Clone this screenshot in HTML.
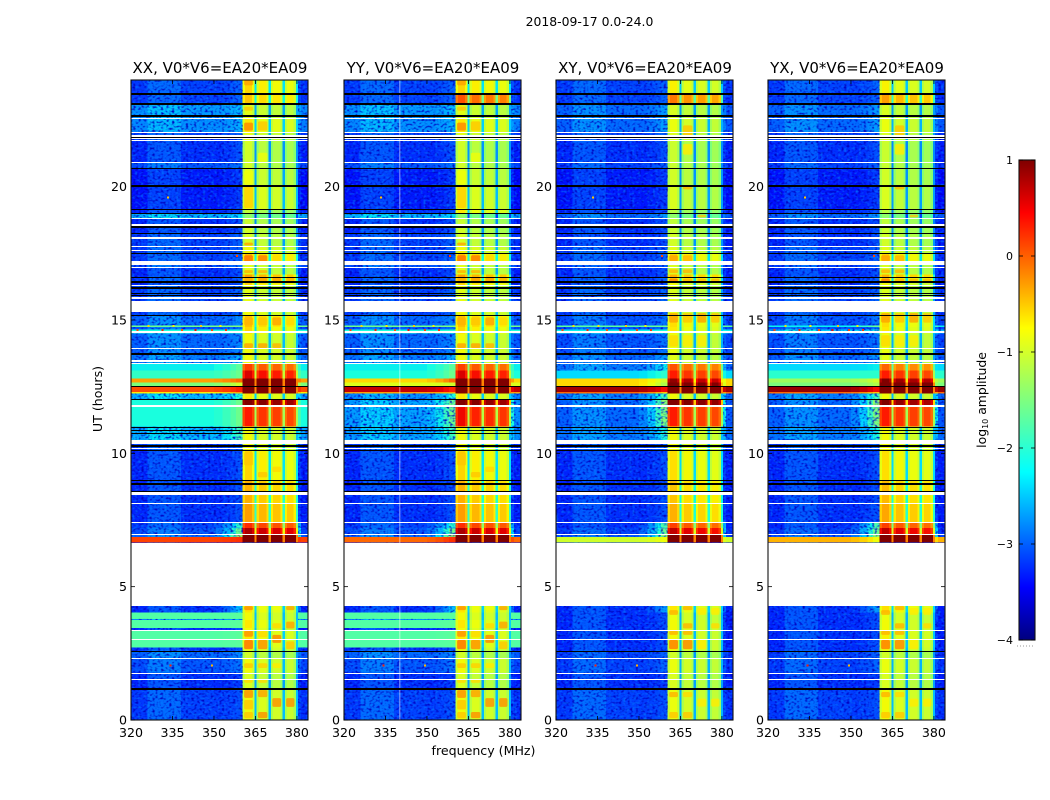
<!DOCTYPE html>
<html>
<head>
<meta charset="utf-8">
<style>
html,body{margin:0;padding:0;background:#fff;}
#fig{display:block;width:1050px;height:800px;}
text{font-family:"DejaVu Sans","Liberation Sans",sans-serif;fill:#000;}
</style>
</head>
<body>
<svg id="fig" xmlns="http://www.w3.org/2000/svg" width="1050" height="800" viewBox="0 0 1050 800">
<defs>
<filter id="speckle-dark" x="0" y="0" width="100%" height="100%" color-interpolation-filters="sRGB">
<feTurbulence type="fractalNoise" baseFrequency="0.36 0.46" numOctaves="1" seed="4"/>
<feColorMatrix values="0 0 0 0 0  0 0 0 0 0  0 0 0 0 0.75  3.4 0 0 0 -1.65"/>
<feComposite in2="SourceAlpha" operator="in"/>
</filter>
<filter id="speckle-light" x="0" y="0" width="100%" height="100%" color-interpolation-filters="sRGB">
<feTurbulence type="fractalNoise" baseFrequency="0.34 0.44" numOctaves="1" seed="11"/>
<feColorMatrix values="0 0 0 0 0  0 0 0 0 0.5  0 0 0 0 1  3 0 0 0 -1.5"/>
<feComposite in2="SourceAlpha" operator="in"/>
</filter>
<linearGradient id="jet-gradient" x1="0" y1="1" x2="0" y2="0">
<stop offset="0" stop-color="#00007f"/>
<stop offset="0.11" stop-color="#0000ff"/>
<stop offset="0.35" stop-color="#00ffff"/>
<stop offset="0.5" stop-color="#7fff7f"/>
<stop offset="0.65" stop-color="#ffff00"/>
<stop offset="0.89" stop-color="#ff0000"/>
<stop offset="1" stop-color="#7f0000"/>
</linearGradient>
</defs>
<text x="589.5" y="26" text-anchor="middle" font-size="12.4">2018-09-17 0.0-24.0</text>
<text transform="translate(102,399) rotate(-90)" text-anchor="middle" font-size="12.6">UT (hours)</text>
<text x="483.5" y="755" text-anchor="middle" font-size="12.6">frequency (MHz)</text>
<g id="panels"></g>
<g id="colorbar"></g>
</svg>
<script>
// Channel groups along the frequency axis (MHz) and what each group shows.
const freqEdges = [320,326,338,350,353,356,358,360.4,361.2,363.8,364.6,365.4,366.2,369,369.8,370.6,371.4,374,374.8,375.6,376.4,378.8,379.6,380.4,381.5,384];
const columnKinds = ['low','low','low','low','low','low','low','shoulder','band','shoulder','gap','shoulder','band','shoulder','gap','shoulder','band','shoulder','gap','shoulder','band','shoulder','gap','low','low'];
const columnBlocks = [-1,-1,-1,-1,-1,-1,-1,0,0,0,-1,1,1,1,-1,2,2,2,-1,3,3,3,-1,-1,-1];
const lowOffsets = [0,0.25,0.05,0,0,0,0,0,0,0,0,0,0,0,0,0,0,0,0,0,0,0,0,0,-0.05];
const edgeWeights = [0,0,0,0.15,0.4,0.7,1,0,0,0,0,0,0,0,0,0,0,0,0,0,0,0,0,0.5,0];
const blockOffsets = [0.22,0.08,0.02,-0.02];
const shoulderDrop = 0.22;
const gapDrop = 1.45;

// Upper end (UT hours) of each time segment.
const segmentEnds = [
1.2,1.78,2.3,2.6,2.72,3.35,3.45,3.75,3.79,4.03,
4.27,6.65,6.87,6.98,7.2,7.4,8.1,8.6,9.0,10.1,
10.5,11.0,11.75,12.0,12.25,12.3,12.52,12.65,12.8,13.1,
13.35,13.7,14.5,14.65,14.73,14.8,15.15,15.73,16.3,16.4,
16.6,16.7,16.95,17.2,17.47,17.75,18.25,18.5,18.8,18.98,
19.15,20.05,20.67,20.9,21.7,22.05,22.55,23.1,23.5,24
];

// log10 amplitude per segment: outside the observing band.
const xxLow = [
-3.1,-3.2,-3.0,-2.9,-3.2,-1.75,-3.2,-1.75,-2.7,-1.75,
-3.2,-3.2,0.2,-2.9,-3.0,-3.1,-3.2,-3.2,-3.2,-3.2,
-3.1,-2.5,-2.1,-2.1,-2.5,-0.7,0.15,-1.5,-0.3,-1.95,
-2.2,-2.8,-2.9,-2.1,-3.0,-1.6,-2.9,-3.1,-3.1,-3.2,
-3.1,-3.2,-3.2,-3.0,-3.1,-3.1,-3.1,-3.2,-3.2,-2.5,
-3.2,-3.3,-3.3,-3.0,-3.2,-3.1,-2.7,-2.65,-3.1,-3.1];
const yyLow = [
-3.1,-3.2,-3.0,-2.9,-3.2,-1.75,-3.2,-1.75,-2.7,-1.75,
-3.2,-3.2,0.0,-2.9,-3.0,-3.1,-3.2,-3.2,-3.2,-3.2,
-3.1,-2.6,-2.6,-2.6,-2.7,-0.3,0.7,-0.9,-0.6,-2.1,
-2.2,-2.8,-2.9,-2.1,-3.0,-1.6,-2.9,-3.1,-3.1,-3.2,
-3.1,-3.2,-3.2,-3.0,-3.1,-3.1,-3.1,-3.2,-3.2,-2.5,
-3.2,-3.3,-3.3,-3.0,-3.2,-3.1,-2.7,-2.65,-3.1,-3.1];
const xyLow = [
-3.1,-3.2,-3.1,-3.1,-3.2,-3.2,-3.2,-3.2,-3.2,-3.2,
-3.2,-3.2,-1.0,-3.0,-3.1,-3.2,-3.2,-3.2,-3.2,-3.2,
-3.1,-2.8,-2.9,-2.9,-2.8,0.0,0.85,-0.6,-0.6,-2.3,
-2.8,-2.9,-3.0,-2.2,-3.0,-1.7,-3.0,-3.1,-3.1,-3.2,
-3.1,-3.2,-3.2,-3.1,-3.1,-3.1,-3.2,-3.2,-3.2,-2.9,
-3.2,-3.3,-3.3,-3.1,-3.2,-3.1,-2.9,-2.9,-3.1,-3.1];
const yxLow = [
-3.1,-3.2,-3.1,-3.1,-3.2,-3.2,-3.2,-3.2,-3.2,-3.2,
-3.2,-3.2,-0.4,-3.0,-3.1,-3.2,-3.2,-3.2,-3.2,-3.2,
-3.1,-2.8,-2.9,-2.9,-2.8,0.0,0.9,-1.5,-1.3,-2.0,
-2.3,-2.9,-3.0,-2.4,-3.0,-2.2,-3.0,-3.1,-3.1,-3.2,
-3.1,-3.2,-3.2,-3.1,-3.1,-3.1,-3.2,-3.2,-3.2,-2.9,
-3.2,-3.3,-3.3,-3.1,-3.2,-3.1,-2.9,-2.9,-3.1,-3.1];

// log10 amplitude per segment: inside the four observing sub-bands.
const xxHigh = [
-1.0,-1.15,-1.0,-1.2,-1.0,-0.9,-1.0,-0.9,-1.0,-1.0,
-0.9,-3.0,1.3,1.3,0.6,0.1,-0.5,-0.6,-0.6,-0.8,
-1.0,-1.0,0.2,0.9,-0.9,1.3,1.3,1.3,1.3,0.4,
0.0,-1.0,-1.0,-0.8,-0.8,-0.7,-0.7,-1.0,-1.1,-0.8,
-0.6,-0.5,-1.1,-1.1,-0.7,-1.0,-1.15,-1.2,-1.25,-1.6,
-1.3,-1.0,-1.1,-1.2,-1.2,-1.1,-0.9,-1.1,-0.7,-0.8];
const yyHigh = [
-1.0,-1.15,-1.0,-1.2,-1.0,-0.9,-1.0,-0.9,-1.0,-1.0,
-0.9,-3.0,1.3,1.3,0.6,0.1,-0.5,-0.6,-0.6,-0.8,
-1.0,-1.0,0.3,0.9,-0.9,1.3,1.3,1.3,1.3,0.4,
0.0,-1.0,-1.0,-0.8,-0.8,-0.7,-0.7,-1.0,-1.1,-0.8,
-0.6,-0.5,-1.1,-1.1,-0.7,-1.0,-1.15,-1.2,-1.25,-1.6,
-0.9,-1.0,-1.1,-1.2,-1.2,-1.1,-0.9,-1.1,-0.1,-0.8];
const xyHigh = [
-1.05,-1.15,-1.05,-1.2,-1.0,-1.0,-1.0,-1.0,-1.05,-1.05,
-0.9,-3.0,1.3,1.3,0.5,0.0,-0.6,-0.7,-0.7,-0.85,
-1.0,-1.0,0.2,0.95,-1.0,1.3,1.3,1.0,0.7,0.2,
-0.1,-1.1,-1.05,-0.9,-0.9,-0.85,-0.85,-1.05,-1.15,-1.0,
-0.8,-0.6,-1.15,-1.15,-0.8,-1.1,-1.2,-1.25,-1.3,-1.6,
-1.35,-1.15,-1.2,-1.25,-1.25,-1.15,-1.05,-1.15,-0.3,-0.95];
const yxHigh = [
-1.0,-1.15,-1.05,-1.2,-1.0,-0.95,-1.0,-1.0,-1.05,-1.05,
-0.85,-3.0,1.3,1.3,0.5,0.0,-0.55,-0.65,-0.65,-0.85,
-1.0,-1.0,0.2,0.85,-1.0,1.3,1.3,1.3,0.8,0.2,
-0.2,-1.1,-1.05,-0.9,-0.9,-0.85,-0.85,-1.05,-1.15,-1.0,
-0.8,-0.6,-1.15,-1.15,-0.8,-1.1,-1.2,-1.25,-1.3,-1.6,
-1.35,-1.15,-1.2,-1.25,-1.25,-1.15,-1.05,-1.15,-0.5,-0.95];

// log10 amplitude per segment: channels rising into the band edge.
const copolEdge = [
-3.0,-3.1,-2.8,-2.7,-3.0,-1.7,-3.0,-1.7,-2.5,-1.7,
-2.4,-3.0,0.3,-1.2,-1.6,-2.0,-3.0,-3.0,-3.0,-3.0,
-2.9,-1.9,-1.6,-1.6,-2.1,-0.3,0.4,-1.0,0.0,-1.6,
-1.7,-2.5,-2.7,-2.0,-2.8,-1.5,-2.7,-2.9,-2.9,-3.0,
-2.9,-3.0,-3.0,-2.8,-2.9,-2.9,-2.9,-3.0,-3.0,-2.3,
-3.0,-3.1,-3.1,-2.8,-3.0,-2.9,-2.5,-2.45,-2.9,-2.9];
const crossEdge = [
-3.0,-3.1,-2.9,-2.9,-3.0,-3.0,-3.0,-3.0,-3.0,-3.0,
-2.6,-3.0,-0.8,-1.4,-1.6,-1.8,-3.0,-3.0,-3.0,-3.0,
-2.9,-2.1,-1.5,-1.4,-1.9,-0.5,0.5,-1.2,-1.0,-2.0,
-2.2,-2.6,-2.8,-2.1,-2.8,-1.6,-2.8,-2.9,-2.9,-3.0,
-2.9,-3.0,-3.0,-2.9,-2.9,-2.9,-3.0,-3.0,-3.0,-2.6,
-3.0,-3.1,-3.1,-2.9,-3.0,-2.9,-2.6,-2.6,-2.9,-2.9];

// Sub-band extents (MHz) for the brighter patches.
const blockLefts = [360.9,365.9,371.1,376.1];
const blockRights = [364.1,369.3,374.3,379.1];

// Bright patches inside the sub-bands: co-polar panels.
const copolPatchBlocks = [1,3,4,4,3,1,2,1,2,3,4,1,2,3,1,2,1,2,3,4,1,1,2,1,2,3,4,1,2,3,1,2,3,1,2,1,2,3,4,1,1,1,2,1,2,1,1,1,2,3];
const copolPatchStarts = [4.12,4.12,4.12,3.43,3.43,3.12,3.1,2.66,2.66,2.89,2.66,1.95,1.95,1.95,1.39,1.39,0.83,0.86,0.49,0.49,0.4,0.07,0.07,14.8,14.8,14.8,14.8,13.95,13.95,13.95,17.17,17.17,17.17,16.76,16.76,16.38,16.38,16.38,16.38,17.8,19.2,20.1,20.93,22.1,22.1,22.85,23.8,9.55,9.1,9.3];
const copolPatchEnds   = [4.27,4.27,4.27,3.69,3.63,3.35,3.34,3.0,3.0,3.19,2.95,2.13,2.13,2.13,1.54,1.54,1.12,1.12,0.82,0.82,0.75,0.3,0.3,15.1,15.1,15.1,15.1,14.13,14.13,14.13,17.43,17.43,17.43,16.87,16.87,16.6,16.6,16.6,16.6,17.9,20.0,20.6,21.27,22.4,22.45,23.0,24.0,10.05,9.3,9.5];
const copolPatchValues = [-0.2,-0.8,-0.3,-0.3,-0.6,-0.2,-0.6,-0.05,-0.2,-0.15,-0.5,-0.5,-0.55,-0.7,-0.6,-0.6,-0.2,-0.3,-0.2,-0.2,-0.5,-0.5,-0.2,-0.4,-0.5,-0.3,-0.6,-0.3,-0.3,-0.4,-0.05,-0.1,-0.6,-0.4,-0.4,-0.4,-0.3,-0.3,-0.4,-0.3,-0.55,-0.8,-0.8,-0.15,-0.5,-0.5,-0.3,-0.5,-0.5,-0.6];

// Bright patches inside the sub-bands: cross-polar panels.
const crossPatchBlocks = [2,1,3,4,2,4,1,2,1,2,3,1,2,3,4,1,2,1,2,3,4,1,2,3,1,2,1,2,1,2,3,4,3,2,2,2];
const crossPatchStarts = [4.12,3.94,3.94,3.94,3.43,3.43,3.19,3.19,2.66,2.66,2.66,0.86,0.86,0.5,0.5,0.07,0.07,14.9,14.9,14.9,14.9,14.0,14.0,14.0,17.2,17.2,16.76,16.76,16.4,16.4,16.4,16.4,18.85,19.9,21.2,21.9];
const crossPatchEnds   = [4.27,4.12,4.2,4.2,3.63,3.63,3.34,3.34,3.0,3.0,3.0,1.05,1.05,0.8,0.8,0.3,0.3,15.26,15.26,15.26,15.26,14.43,14.43,14.43,17.43,17.43,16.9,16.9,16.55,16.55,16.55,16.55,18.95,20.0,21.6,22.3];
const crossPatchValues = [-0.4,-0.4,-0.7,-0.7,-0.4,-0.6,-0.4,-0.4,-0.1,-0.15,-0.7,-0.4,-0.6,-0.7,-0.7,-0.5,-0.5,-0.3,-0.5,-0.3,-0.5,-0.6,-0.7,-0.7,-0.3,-0.4,-0.4,-0.4,-0.1,-0.4,-0.4,-0.4,-0.5,-0.4,-0.7,-0.5];

// Flagged (no data) and blanked (zero) time ranges in UT hours.
const flaggedStarts = [1.5,1.73,2.27,3.0,3.33,4.27,6.95,7.4,8.1,8.45,8.53,10.17,10.35,11.75,13.35,13.42,13.92,14.53,15.3,15.8,16.26,16.95,17.08,17.6,17.72,18.05,18.53,18.78,20.9,21.7,21.8,21.88,22.0,22.52];
const flaggedEnds   = [1.55,1.78,2.32,3.04,3.37,6.65,6.98,7.44,8.14,8.5,8.56,10.2,10.5,11.8,13.38,13.5,13.96,14.6,15.73,15.85,16.3,16.99,17.2,17.64,17.79,18.1,18.6,18.83,20.93,21.74,21.84,21.93,22.04,22.57];
const blankStarts = [1.13,2.56,8.57,8.83,8.95,10.08,10.24,10.72,10.85,10.95,12.0,12.5,13.68,15.15,15.9,15.99,16.18,16.4,16.58,17.47,18.22,18.46,18.98,19.12,20.0,20.65,21.84,22.63,23.05,23.45];
const blankEnds   = [1.2,2.6,8.6,8.87,9.0,10.13,10.3,10.76,10.89,10.99,12.04,12.54,13.78,15.2,15.94,16.03,16.22,16.45,16.63,17.52,18.27,18.53,19.03,19.18,20.05,20.7,21.88,22.67,23.12,23.5];

// Isolated interference spikes.
const rfiFreqs  = [322,326,331,335,338,343,345,349,352,354,334,349,358,333,341,347];
const rfiHours  = [14.62,14.78,14.62,14.78,14.62,14.62,14.78,14.62,14.78,14.62,2.05,2.05,17.4,19.6,17.1,17.1];
const rfiValues = [0.2,-0.6,0.4,-0.7,0.1,0.5,-0.5,0.2,-0.7,0.3,0.4,-0.4,0.2,-0.5,-0.2,-0.6];

const xTicks = [320,335,350,365,380];
const yTicks = [0,5,10,15,20];
const colorTicks = [-4,-3,-2,-1,0,1];
const panelTitles = ['XX, V0*V6=EA20*EA09','YY, V0*V6=EA20*EA09','XY, V0*V6=EA20*EA09','YX, V0*V6=EA20*EA09'];
const panelLows = [xxLow,yyLow,xyLow,yxLow];
const panelHighs = [xxHigh,yyHigh,xyHigh,yxHigh];
const panelEdges = [copolEdge,copolEdge,crossEdge,crossEdge];
const panelPatchBlocks = [copolPatchBlocks,copolPatchBlocks,crossPatchBlocks,crossPatchBlocks];
const panelPatchStarts = [copolPatchStarts,copolPatchStarts,crossPatchStarts,crossPatchStarts];
const panelPatchEnds = [copolPatchEnds,copolPatchEnds,crossPatchEnds,crossPatchEnds];
const panelPatchValues = [copolPatchValues,copolPatchValues,crossPatchValues,crossPatchValues];
const panelKeys = ['xx','yy','xy','yx'];
const panelLefts = [131,344,556,768];
const deadChannel = 340;

const NS = 'http://www.w3.org/2000/svg';
const panelWidth = 177, plotTop = 80, plotBottom = 720;
const xMin = 320, xMax = 384, yMin = 0, yMax = 24, vMin = -4, vMax = 1;

function yScale(h){ return plotBottom - (h - yMin) / (yMax - yMin) * (plotBottom - plotTop); }
function xScale(left, f){ return left + (f - xMin) / (xMax - xMin) * panelWidth; }
function ramp(t, pts){
  for (let i = 1; i < pts.length; i++) {
    if (t <= pts[i][0]) {
      const a = pts[i-1], b = pts[i];
      return a[1] + (b[1]-a[1]) * (t-a[0]) / (b[0]-a[0]);
    }
  }
  return pts[pts.length-1][1];
}
function jet(v){
  const t = Math.max(0, Math.min(1, (v - vMin) / (vMax - vMin)));
  const r = ramp(t, [[0,0],[0.35,0],[0.66,1],[0.89,1],[1,0.5]]);
  const g = ramp(t, [[0,0],[0.125,0],[0.375,1],[0.64,1],[0.91,0],[1,0]]);
  const b = ramp(t, [[0,0.5],[0.11,1],[0.34,1],[0.65,0],[1,0]]);
  return 'rgb(' + Math.round(r*255) + ',' + Math.round(g*255) + ',' + Math.round(b*255) + ')';
}
function el(parent, tag, attrs, text){
  const e = document.createElementNS(NS, tag);
  for (const k in attrs) e.setAttribute(k, attrs[k]);
  if (text !== undefined) e.textContent = text;
  parent.appendChild(e);
  return e;
}
function cellValue(c, low, high, edge){
  const kind = columnKinds[c];
  if (kind === 'low') {
    const w = edgeWeights[c];
    const base = low < -2.3 ? low + lowOffsets[c] : low;
    return base + w * (edge - low);
  }
  if (kind === 'band') return high + blockOffsets[columnBlocks[c]];
  if (kind === 'shoulder') return high + blockOffsets[columnBlocks[c]] - shoulderDrop;
  return high - gapDrop;
}

const panelsRoot = document.getElementById('panels');
panelKeys.forEach(function(key, p){
  const left = panelLefts[p], right = left + panelWidth;
  const g = el(panelsRoot, 'g', {});
  
  

  const cells = el(g, 'g', {'shape-rendering':'crispEdges'});
  
  

  let speckle = '';
  segmentEnds.forEach(function(end, s){
    const start = s === 0 ? yMin : segmentEnds[s-1];
    const y0 = yScale(end), y1 = yScale(start);
    const low = panelLows[p][s], high = panelHighs[p][s], edge = panelEdges[p][s];
    columnKinds.forEach(function(kind, c){
      const x0 = xScale(left, freqEdges[c]), x1 = xScale(left, freqEdges[c+1]);
      const cell = el(cells, 'rect', {x:x0, y:y0, width:x1-x0, height:y1-y0, fill:jet(cellValue(c, low, high, edge))});
      
      
    });
    if (low < -2.3) {
      const xa = xScale(left, xMin), xb = xScale(left, 360.4);
      const xc = xScale(left, 380.4), xd = xScale(left, xMax);
      speckle += 'M'+xa+' '+y0+'H'+xb+'V'+y1+'H'+xa+'Z';
      speckle += 'M'+xc+' '+y0+'H'+xd+'V'+y1+'H'+xc+'Z';
    }
  });

  panelPatchBlocks[p].forEach(function(b, i){
    const x0 = xScale(left, blockLefts[b-1]), x1 = xScale(left, blockRights[b-1]);
    const y0 = yScale(panelPatchEnds[p][i]), y1 = yScale(panelPatchStarts[p][i]);
    const patch = el(g, 'rect', {x:x0, y:y0, width:x1-x0, height:y1-y0, rx:1.5, fill:jet(panelPatchValues[p][i]), opacity:'0.8'});
    
    
  });

  const darkNoise = el(g, 'path', {d:speckle, fill:'#000', filter:'url(#speckle-dark)'});
  
  
  const lightNoise = el(g, 'path', {d:speckle, fill:'#000', filter:'url(#speckle-light)', opacity:'0.7'});
  
  

  rfiFreqs.forEach(function(f, i){
    const spike = el(g, 'rect', {x:xScale(left,f), y:yScale(rfiHours[i])-1, width:2, height:2, fill:jet(rfiValues[i]), 'shape-rendering':'crispEdges'});
    
    
  });

  if (key === 'yy') {
    const dead = el(g, 'rect', {x:xScale(left,deadChannel), y:plotTop, width:1, height:plotBottom-plotTop, fill:'#fff', opacity:'0.55'});
    
    
  }

  blankStarts.forEach(function(a, i){
    const t = Math.round(yScale(blankEnds[i]));
    const h = Math.max(1, Math.round(yScale(a)) - t);
    const line = el(g, 'rect', {x:left, y:t, width:panelWidth, height:h, fill:'#000', 'shape-rendering':'crispEdges'});
    
    
  });
  flaggedStarts.forEach(function(a, i){
    const t = Math.round(yScale(flaggedEnds[i]));
    const h = Math.max(1, Math.round(yScale(a)) - t);
    const band = el(g, 'rect', {x:left, y:t, width:panelWidth, height:h, fill:'#fff', 'shape-rendering':'crispEdges'});
    
    
  });

  const frame = el(g, 'rect', {x:left, y:plotTop, width:panelWidth, height:plotBottom-plotTop, fill:'none', stroke:'#111', 'stroke-width':'1.1'});
  
  

  xTicks.forEach(function(v){
    const x = xScale(left, v);
    const t1 = el(g, 'line', {x1:x, x2:x, y1:plotBottom, y2:plotBottom-4, stroke:'#000', 'stroke-width':'0.8'});
    
    
    const t2 = el(g, 'line', {x1:x, x2:x, y1:plotTop, y2:plotTop+4, stroke:'#000', 'stroke-width':'0.8'});
    
    
    const lab = el(g, 'text', {x:x, y:plotBottom+17, 'text-anchor':'middle', 'font-size':'12.6'}, String(v));
    
    
  });
  yTicks.forEach(function(v){
    const y = yScale(v);
    const t1 = el(g, 'line', {x1:left, x2:left+4, y1:y, y2:y, stroke:'#000', 'stroke-width':'0.8'});
    
    
    const t2 = el(g, 'line', {x1:right, x2:right-4, y1:y, y2:y, stroke:'#000', 'stroke-width':'0.8'});
    
    
    const lab = el(g, 'text', {x:left-4, y:y+4.5, 'text-anchor':'end', 'font-size':'12.6'}, String(v));
    
    
  });
  const title = el(g, 'text', {x:left+panelWidth/2+0.5, y:plotTop-7, 'text-anchor':'middle', 'font-size':'15'}, panelTitles[p]);
  
  
});

// Colorbar
const cb = document.getElementById('colorbar');
const cbLeft = 1019, cbWidth = 16, cbTop = 160, cbBottom = 640;
function cbScale(v){ return cbBottom - (v - vMin) / (vMax - vMin) * (cbBottom - cbTop); }
const cbRect = el(cb, 'rect', {x:cbLeft, y:cbTop, width:cbWidth, height:cbBottom-cbTop, fill:'url(#jet-gradient)', stroke:'#111', 'stroke-width':'1.1'});


colorTicks.forEach(function(v){
  const y = cbScale(v);
  const a = el(cb, 'line', {x1:cbLeft, x2:cbLeft+4, y1:y, y2:y, stroke:'#000', 'stroke-width':'0.8'});
  
  
  const b = el(cb, 'line', {x1:cbLeft+cbWidth, x2:cbLeft+cbWidth-4, y1:y, y2:y, stroke:'#000', 'stroke-width':'0.8'});
  
  
  const label = (v < 0 ? '\u2212' + Math.abs(v) : String(v));
  const t = el(cb, 'text', {x:cbLeft-6, y:y+4, 'text-anchor':'end', 'font-size':'11'}, label);
  
  
});
const cbLabel = el(cb, 'text', {transform:'translate(986,400) rotate(-90)', 'text-anchor':'middle', 'font-size':'12.4'});


el(cbLabel, 'tspan', {}, 'log');
el(cbLabel, 'tspan', {'font-size':'8', dy:'2'}, '10');
el(cbLabel, 'tspan', {dy:'-2'}, ' amplitude');
const cbDots = el(cb, 'line', {x1:1017, x2:1035, y1:646, y2:646, stroke:'#999', 'stroke-width':'1', 'stroke-dasharray':'1 2'});


</script>
</body>
</html>
